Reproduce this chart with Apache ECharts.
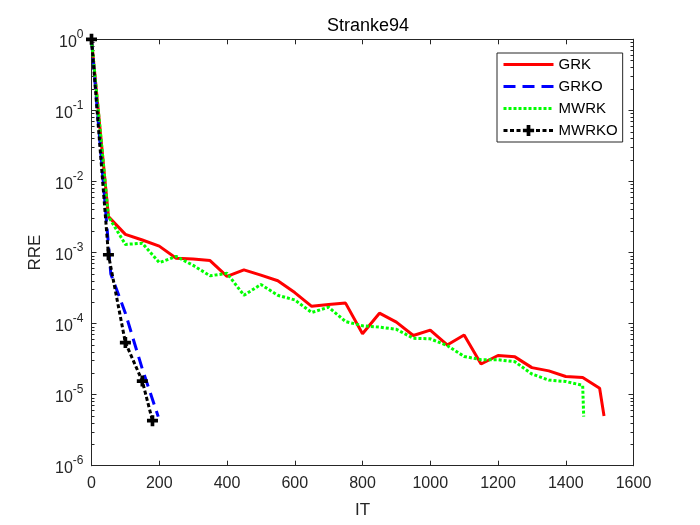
<!DOCTYPE html>
<html style="height: 100%">
<head>
    <meta charset="utf-8">
</head>
<body style="height: 100%; margin: 0; background: #fff">
<div id="container" style="width: 700px; height: 525px"></div>
<script src="https://cdn.jsdelivr.net/npm/echarts@6/dist/echarts.min.js"></script>
<script type="text/javascript">
    // values
    var grkIt = [0, 50, 100, 150, 200, 250, 300, 350, 400, 450, 500, 550, 600, 650, 700, 750,
        800, 850, 900, 950, 1000, 1050, 1100, 1150, 1200, 1250, 1300, 1350, 1400, 1450, 1500, 1513];
    var grkRre = [1, 3.2e-3, 1.8e-3, 1.5e-3, 1.23e-3, 8.3e-4, 8.1e-4, 7.7e-4, 4.6e-4, 5.7e-4, 4.8e-4,
        4.0e-4, 2.73e-4, 1.75e-4, 1.85e-4, 1.94e-4, 7.2e-5, 1.4e-4, 1.05e-4, 6.8e-5, 8.1e-5, 5.0e-5,
        6.9e-5, 2.7e-5, 3.55e-5, 3.4e-5, 2.4e-5, 2.16e-5, 1.8e-5, 1.74e-5, 1.23e-5, 5.0e-6];

    var grkoIt = [0, 57, 100, 150, 197];
    var grkoRre = [1, 5.0e-4, 1.4e-4, 2.3e-5, 4.9e-6];

    var mwrkIt = [0, 50, 100, 150, 200, 250, 300, 350, 400, 450, 500, 550, 600, 650, 700, 750,
        800, 850, 900, 950, 1000, 1050, 1100, 1150, 1200, 1250, 1300, 1350, 1400, 1450, 1453];
    var mwrkRre = [1, 3.2e-3, 1.3e-3, 1.35e-3, 7.2e-4, 8.8e-4, 6.6e-4, 4.7e-4, 5.1e-4, 2.5e-4, 3.55e-4,
        2.5e-4, 2.15e-4, 1.43e-4, 1.7e-4, 1.07e-4, 9.3e-5, 8.9e-5, 8.3e-5, 6.2e-5, 6.1e-5, 4.9e-5,
        3.45e-5, 3.1e-5, 3.1e-5, 2.9e-5, 1.95e-5, 1.6e-5, 1.53e-5, 1.35e-5, 4.9e-6];

    var mwrkoIt = [0, 50, 100, 150, 180];
    var mwrkoRre = [1, 9.3e-4, 5.4e-5, 1.55e-5, 4.3e-6];

    var seriesNames = ['GRK', 'GRKO', 'MWRK', 'MWRKO'];

    // minor ticks of the log axis: 2..9 in every decade
    var minorTicks = [];
    for (var d = -6; d < 0; d++) {
        for (var m = 2; m <= 9; m++) {
            minorTicks.push(m * Math.pow(10, d));
        }
    }

    function pairs(xs, ys) {
        return xs.map(function (x, i) { return [x, ys[i]]; });
    }

    var ink = '#262626';
    var font = 'Liberation Sans';
    var plus = 'path://M-1,-3H1V-1H3V1H1V3H-1V1H-3V-1H-1Z';

    var dom = document.getElementById("container");
    var myChart = echarts.init(dom);

    function logAxis(pos, minor, labels) {
        return {
            type: 'log',
            logBase: 10,
            position: pos,
            min: 1e-6,
            max: 1,
            interval: 1,
            axisLine: {show: true, lineStyle: {color: ink, width: 1}},
            axisTick: minor
                ? {show: true, inside: true, length: 3, customValues: minorTicks, lineStyle: {color: ink}}
                : {show: true, inside: true, length: 5, lineStyle: {color: ink}},
            axisLabel: labels ? {
                show: true,
                margin: 8,
                formatter: function (v) {
                    return '{b|10}{s|' + Math.round(Math.log10(v)) + '}';
                },
                rich: {
                    b: {fontSize: 16, fontFamily: font, color: ink, lineHeight: 22, verticalAlign: 'bottom'},
                    s: {fontSize: 12, fontFamily: font, color: ink, lineHeight: 12, verticalAlign: 'top'}
                }
            } : {show: false},
            splitLine: {show: false},
            minorTick: {show: false},
            name: labels ? 'RRE' : '',
            nameLocation: 'middle',
            nameGap: 44,
            nameTextStyle: {fontSize: 17, fontFamily: font, color: ink}
        };
    }

    function xAxis(pos, labels) {
        return {
            type: 'value',
            position: pos,
            min: 0,
            max: 1600,
            interval: 200,
            axisLine: {show: true, lineStyle: {color: ink, width: 1}},
            axisTick: {show: true, inside: true, length: 5, lineStyle: {color: ink}},
            axisLabel: {
                show: labels, fontSize: 16, fontFamily: font, color: ink, margin: 10,
                formatter: function (v) { return String(v); }
            },
            splitLine: {show: false},
            name: labels ? 'IT' : '',
            nameLocation: 'middle',
            nameGap: 36,
            nameTextStyle: {fontSize: 17, fontFamily: font, color: ink}
        };
    }

    var option = {
        animation: false,
        backgroundColor: '#fff',
        title: {
            text: 'Stranke94',
            left: 363,
            top: 12,
            textAlign: 'center',
            textStyle: {fontSize: 18, fontWeight: 'normal', fontFamily: font, color: '#000'}
        },
        grid: {left: 91.5, right: 66.5, top: 39.3, bottom: 59.3, containLabel: false},
        legend: {
            data: [
                {name: 'GRK', itemStyle: {opacity: 0}},
                {name: 'GRKO', itemStyle: {opacity: 0}},
                {name: 'MWRK', itemStyle: {opacity: 0}},
                {name: 'MWRKO'}
            ],
            orient: 'vertical',
            left: 497,
            top: 53,
            itemWidth: 50,
            itemHeight: 14,
            itemGap: 7,
            padding: [4, 5, 4, 5],
            borderColor: ink,
            borderWidth: 1,
            borderRadius: 0,
            backgroundColor: '#fff',
            lineStyle: {width: 3},
            textStyle: {fontSize: 15, lineHeight: 14, fontFamily: font, color: '#000'}
        },
        xAxis: [xAxis('bottom', true), xAxis('top', false)],
        yAxis: [logAxis('left', false, true), logAxis('left', true, false),
            logAxis('right', false, false), logAxis('right', true, false)],
        series: [
            {
                name: 'GRK', type: 'line', data: pairs(grkIt, grkRre),
                symbol: 'circle', symbolSize: 0, showSymbol: false, color: '#ff0000',
                lineStyle: {color: '#ff0000', width: 3}
            },
            {
                name: 'GRKO', type: 'line', data: pairs(grkoIt, grkoRre),
                symbol: 'circle', symbolSize: 0, showSymbol: false, color: '#0000ff',
                lineStyle: {color: '#0000ff', width: 3, type: [12, 7]}
            },
            {
                name: 'MWRK', type: 'line', data: pairs(mwrkIt, mwrkRre),
                symbol: 'circle', symbolSize: 0, showSymbol: false, color: '#00ff00',
                lineStyle: {color: '#00ff00', width: 3, type: [3, 2]}
            },
            {
                name: 'MWRKO', type: 'line', data: pairs(mwrkoIt, mwrkoRre),
                symbol: plus, symbolSize: 11, showSymbol: true, color: '#000',
                itemStyle: {color: '#000'},
                lineStyle: {color: '#000', width: 3, type: [4, 2.5]}
            }
        ]
    };

    if (option && typeof option === "object") {
        myChart.setOption(option, true);
    }
</script>
</body>
</html>
